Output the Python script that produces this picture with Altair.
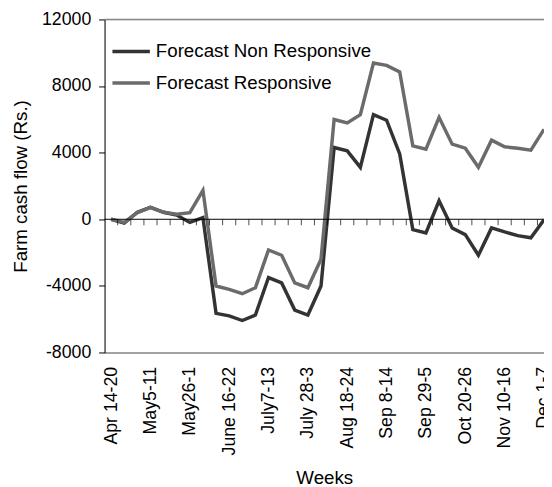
import altair as alt
import pandas as pd

weeks = ["Apr 14-20", "Apr 21-27", "Apr 28-4", "May5-11", "May 12-18", "May 19-25",
         "May26-1", "June 2-8", "June 9-15", "June 16-22", "June 23-29", "June 30-6",
         "July7-13", "July 14-20", "July 21-27", "July 28-3", "Aug 4-10", "Aug 11-17",
         "Aug 18-24", "Aug 25-31", "Sep 1-7", "Sep 8-14", "Sep 15-21", "Sep 22-28",
         "Sep 29-5", "Oct 6-12", "Oct 13-19", "Oct 20-26", "Oct 27-2", "Nov 3-9",
         "Nov 10-16", "Nov 17-23", "Nov 24-30", "Dec 1-7"]

non_responsive = [0, -230, 420, 720, 420, 250, -190, 100,
                  -5650, -5800, -6080, -5750, -3500, -3820, -5450, -5750, -4010,
                  4310, 4110, 3120, 6280, 5950, 3920,
                  -620, -820, 1110, -520, -920, -2160, -520, -760, -980, -1110, -30]

responsive = [0, -190, 400, 720, 420, 300, 400, 1740,
              -4010, -4210, -4470, -4110, -1840, -2160, -3820, -4110, -2400,
              5990, 5790, 6280, 9380, 9240, 8850,
              4410, 4210, 6120, 4510, 4270, 3120, 4750, 4350, 4270, 4150, 5400]

series_names = ["Forecast Non Responsive", "Forecast Responsive"]
series_colors = ["#333333", "#6b6b6b"]
y_ticks = list(range(-8000, 12001, 2000))
label_idx = list(range(0, len(weeks), 3))

rows = []
for name, vals in zip(series_names, [non_responsive, responsive]):
    for i, v in enumerate(vals):
        rows.append({"i": i, "week": weeks[i], "value": v, "series": name})
df = pd.DataFrame(rows)

bounds = pd.DataFrame({"b": [i + 0.5 for i in range(len(weeks) - 1)], "z": 0})
zero = pd.DataFrame({"value": [0]})

W, H = 446, 338
FONT = "Liberation Sans"

label_array = "[" + ",".join("'" + w + "'" for w in weeks) + "]"

xscale = alt.Scale(domain=[-0.5, len(weeks) - 1], nice=False, zero=False)
yscale = alt.Scale(domain=[-8000, 12000], nice=False, zero=False)

xaxis = alt.Axis(values=label_idx, labelExpr=label_array + "[datum.value]",
                 labelAngle=270, labelFlush=False, labelOverlap=False,
                 ticks=False, grid=False,
                 labelPadding=14, labelFontSize=18, labelFont=FONT,
                 labelColor="black", domainColor="#888888", domainWidth=1.5,
                 title="Weeks", titleFontSize=19, titleFont=FONT,
                 titleFontWeight="normal", titleColor="black",
                 titleY=133, titleBaseline="alphabetic")

yaxis = alt.Axis(values=y_ticks, grid=False, tickSize=6, tickColor="black",
                 labelExpr="'' + datum.value", labelOverlap=False,
                 domainColor="black", labelFontSize=18, labelFont=FONT,
                 labelColor="black", labelPadding=8,
                 title="Farm cash flow (Rs.)", titleFontSize=19,
                 titleFont=FONT, titleFontWeight="normal", titleColor="black",
                 titleAngle=270, titleX=-85, titleY=H / 2,
                 titleBaseline="middle")

X = alt.X("i:Q", scale=xscale, axis=xaxis, title="Weeks")
Y = alt.Y("value:Q", scale=yscale, axis=yaxis, title="Farm cash flow (Rs.)")

lines = alt.Chart(df).mark_line(strokeWidth=3.5).encode(
    x=X,
    y=Y,
    color=alt.Color("series:N",
                    scale=alt.Scale(domain=series_names, range=series_colors),
                    legend=alt.Legend(title=None, orient="none", legendX=6, legendY=11.5,
                                      symbolType="stroke", symbolSize=1444,
                                      symbolStrokeWidth=3.5, labelFontSize=19,
                                      labelFont=FONT, labelColor="black", labelLimit=400,
                                      rowPadding=1, padding=0, labelOffset=4)),
)

zero_line = alt.Chart(zero).mark_rule(color="black", strokeWidth=1).encode(y=Y)

# small category tick marks hanging below the zero line
zero_ticks = alt.Chart(bounds).mark_tick(orient="vertical", size=6, thickness=1,
                                          color="black", yOffset=3).encode(
    x=alt.X("b:Q", scale=xscale, title="Weeks"),
    y=alt.Y("z:Q", scale=yscale, title="Farm cash flow (Rs.)"),
)

top_border = alt.Chart(zero).mark_rule(color="#888888", strokeWidth=1.5).encode(
    x=alt.value(0), x2=alt.value(W), y=alt.value(0)
)

chart = alt.layer(lines, top_border, zero_line, zero_ticks).properties(
    width=W, height=H,
    autosize=alt.AutoSizeParams(type="none"),
    padding={"left": 98, "top": 8, "right": 0, "bottom": 140},
).configure_view(stroke=None).configure(background="white")

chart.save("out.html", embed_options={"renderer": "svg", "actions": False})
